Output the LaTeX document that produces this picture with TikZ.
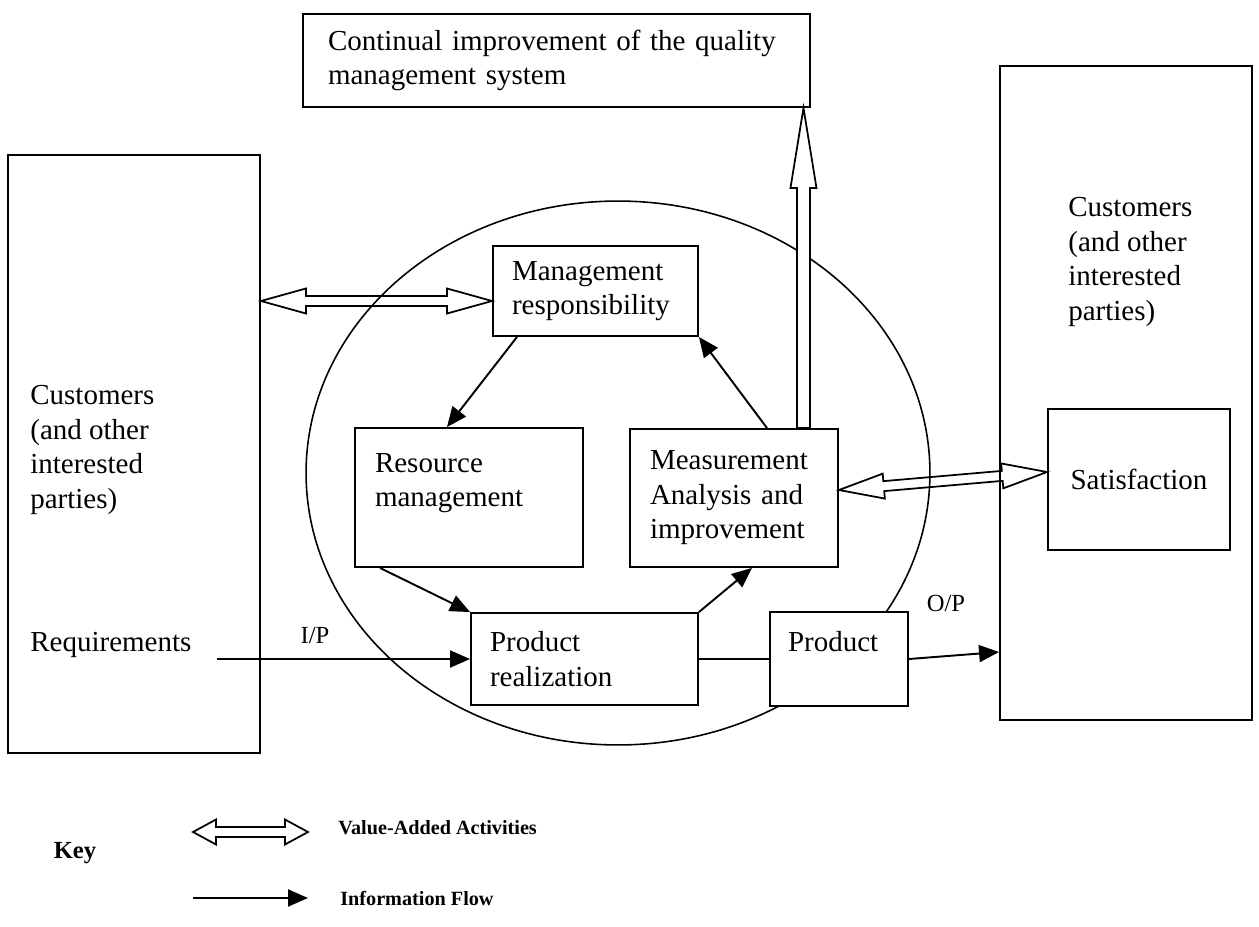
\documentclass[tikz,border=0pt]{standalone}
\usepackage{fontspec}
\setmainfont{Liberation Serif}
\usetikzlibrary{arrows.meta}
\usetikzlibrary{calc}
\tikzset{box/.style={draw, fill=white, line width=1.1pt, align=left, inner ysep=0pt},
 txt/.style={align=left, inner sep=0pt},
 info/.style={line width=1.1pt, -{Triangle[length=0.4cm,width=0.34cm]}},
 fat/.style={draw, line width=1pt, line join=miter},
 keytxt/.style={txt, font=\bfseries\fontsize{11.5}{14}\selectfont},
 }
% value-added arrow, heads at both ends
\newcommand{\vaarrow}[3][0.9cm]{%
  \coordinate (fa) at ($(#2)!#1!(#3)$);
  \coordinate (fb) at ($(#3)!#1!(#2)$);
  \draw[fat] (#2) -- ($(fa)!0.25cm!-90:(#3)$) -- ($(fa)!0.1cm!-90:(#3)$)
    -- ($(fb)!0.1cm!90:(#2)$) -- ($(fb)!0.25cm!90:(#2)$) -- (#3)
    -- ($(fb)!0.25cm!-90:(#2)$) -- ($(fb)!0.1cm!-90:(#2)$)
    -- ($(fa)!0.1cm!90:(#3)$) -- ($(fa)!0.25cm!90:(#3)$) -- cycle;
}
% one-headed fat arrow
\newcommand{\upfat}[2]{%
  \coordinate (fb) at ($(#2)!1.6cm!(#1)$);
  \filldraw[fat, fill=white] ($(#1)!0.13cm!-90:(#2)$) -- ($(fb)!0.13cm!90:(#1)$)
    -- ($(fb)!0.26cm!90:(#1)$) -- (#2) -- ($(fb)!0.26cm!-90:(#1)$)
    -- ($(fb)!0.13cm!-90:(#1)$) -- ($(#1)!0.13cm!90:(#2)$) -- cycle;
}

\begin{document}
\begin{tikzpicture}[x=0.02cm, y=-0.02cm, font=\fontsize{16.5}{19.6}\selectfont]
\useasboundingbox (0,0) rectangle (1259,927);

% the circle round the processes
\draw[line width=0.9pt] (618,473) ellipse [x radius=6.24cm, y radius=5.44cm];

% customers
\node[box, minimum width=5.04cm, minimum height=11.96cm] (lcust) at (134,454) {};
\node[box, minimum width=5.04cm, minimum height=13.08cm] (rcust) at (1126,393) {};
\node[txt, anchor=west] (ltxt) at (30,450) {Customers\\(and other\\interested\\parties)};
\node[txt, anchor=west] (req) at (30,645) {Requirements};
\node[txt, anchor=west] (rtxt) at (1068,262) {Customers\\(and other\\interested\\parties)};

% boxes
\node[box, inner xsep=0.5cm, text width=9.14cm, minimum height=1.86cm] (cip) at (556.5,60.5) {Continual improvement of the quality\\management system};
\node[box, inner xsep=0.38cm, text width=3.34cm, minimum height=1.8cm] (mgmt) at (595.5,291) {Management\\responsibility};
\node[box, inner xsep=0.4cm, text width=3.76cm, minimum height=2.78cm] (res) at (469,497.5) {Resource\\management\\\mbox{}};
\node[box, inner xsep=0.4cm, text width=3.36cm, minimum height=2.76cm] (meas) at (734,498) {Measurement\\Analysis and\\improvement};
\node[box, inner xsep=0.38cm, text width=3.78cm, minimum height=1.84cm] (pr) at (584.5,659) {Product\\realization};
\node[box, inner xsep=0.36cm, text width=2.04cm, minimum height=1.88cm] (prod) at (839,659) {Product\\\mbox{}};
\node[box, align=center, inner xsep=0.4cm, text width=2.84cm, minimum height=2.82cm] (sat) at (1139,479.5) {Satisfaction};

\node[font=\fontsize{14}{16}\selectfont] (ip) at (315,636) {I/P};
\node[font=\fontsize{14}{16}\selectfont] (op) at (946,603) {O/P};

% information flow
\draw[info] ([xshift=-1.57cm]mgmt.south) -- ([xshift=-0.44cm]res.north);
\draw[info] ([xshift=0.66cm]meas.north) -- (mgmt.south east);
\draw[info] ([xshift=-1.78cm]res.south) -- (pr.north west);
\draw[info] (pr.north east) -- ([xshift=0.36cm]meas.south);
\coordinate (reqout) at (217,659);
\draw[info] (reqout |- pr.west) -- (pr.west);
\draw[line width=1.1pt] (pr.east) -- (prod.west);
\draw[info] (prod.east) -- ($(rcust.west |- prod.east)+(0,0.14cm)$);

% value-added activities
\coordinate (va1b) at ([yshift=-0.2cm]mgmt.west);
\coordinate (va1a) at (lcust.east |- va1b);
\vaarrow{va1a}{va1b}
\coordinate (va2a) at ([yshift=0.16cm]meas.east);
\coordinate (va2b) at ([yshift=0.15cm]sat.west);
\vaarrow{va2a}{va2b}
\coordinate (upfoot) at ([xshift=1.39cm]meas.north);
\coordinate (uptop) at (upfoot |- cip.south);
\upfat{upfoot}{uptop}

% key
\node[font=\bfseries\fontsize{14}{16}\selectfont] (key) at (75,853) {Key};
\coordinate (vaL) at (193,832);
\coordinate (vaR) at (308,832);
\vaarrow[0.46cm]{vaL}{vaR}
\node[keytxt, anchor=west] (vatxt) at (338,828) {Value-Added Activities};
\coordinate (ifL) at (193,898);
\coordinate (ifR) at (308,898);
\draw[info] (ifL) -- (ifR);
\node[keytxt, anchor=west] (iftxt) at (340,898) {Information Flow};
\end{tikzpicture}
\end{document}
